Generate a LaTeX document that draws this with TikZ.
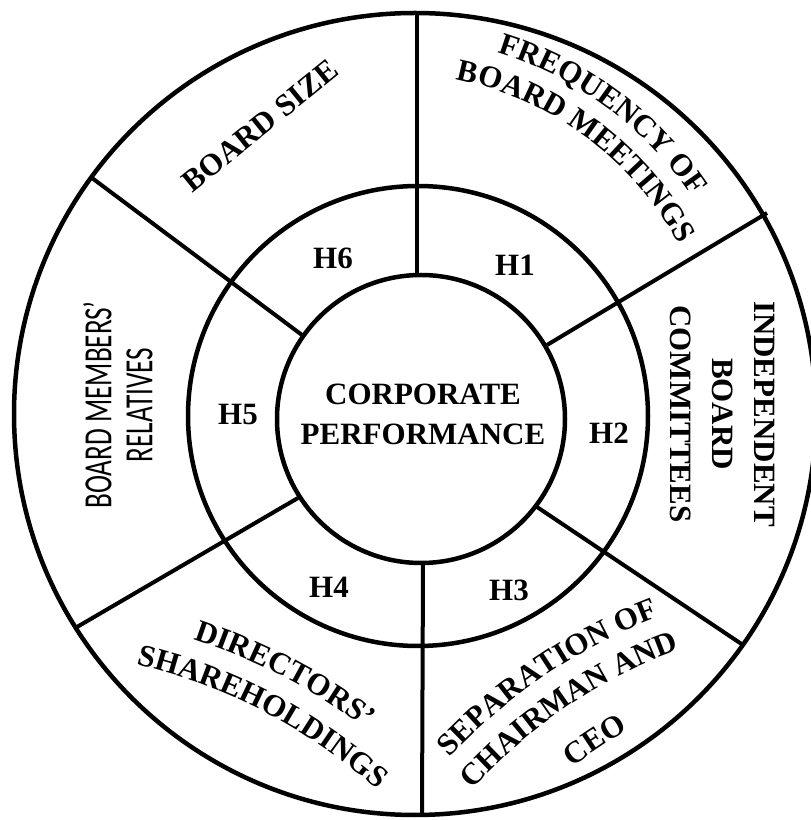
\documentclass[tikz,border=0pt]{standalone}
\usepackage{fontspec}
\usetikzlibrary{calc,decorations.text}
\setmainfont{Liberation Serif}
\newfontfamily\narrowsans[FakeStretch=0.68]{Carlito}
\newcommand\archfont{\fontsize{31}{31}\selectfont\bfseries}
% one line of text bent over an arc: centre x, centre y, mid angle, baseline radius, text
\newcommand\archline[5]{%
  \path[decorate, decoration={text along path, text align=center,
        text={|\archfont|#5}}]
    ($(#1,#2)+(#3+40:#4pt)$) arc[start angle=#3+40, end angle=#3-40, radius=#4pt];}
\begin{document}
\begin{tikzpicture}[x=1pt,y=1pt,
  ring/.style={line width=4.5pt},
  spoke/.style={line width=4pt},
  lbl/.style={font=\fontsize{31}{40}\selectfont\bfseries, align=center, inner sep=0pt},
  hyp/.style={font=\fontsize{31}{40}\selectfont\bfseries, inner sep=0pt},
  side/.style={font=\fontsize{40}{41}\selectfont\narrowsans, align=center, inner sep=0pt}]
\useasboundingbox (0,0) rectangle (811,820);
\clip (0,0) rectangle (811,820);

% three concentric rings
\draw[ring] (415,406) circle (401pt);
\draw[ring] (418,404) circle (230pt);
\node[ring, draw, circle, minimum size=288pt, inner sep=0pt] (core) at (421,401) {};

% spoke end points (outer rim / inner rim)
\coordinate (sTopO) at (417,807);  \coordinate (sTopI) at (417,545);
\coordinate (sBotO) at (422,5);    \coordinate (sBotI) at (423,257);
\coordinate (sURO) at (767,607);   \coordinate (sURI) at (547,475);
\coordinate (sLRO) at (743,175);   \coordinate (sLRI) at (537,313);
\coordinate (sLLO) at (77,193);    \coordinate (sLLI) at (298,322);
\coordinate (sULO) at (92,642);    \coordinate (sULI) at (302,485);

\draw[spoke] (sTopO) -- (sTopI);
\draw[spoke] (sBotI) -- (sBotO);
\draw[spoke] (sURI) -- (sURO);
\draw[spoke] (sLRI) -- (sLRO);
\draw[spoke] (sLLI) -- (sLLO);
\draw[spoke] (sULI) -- (sULO);

% centre
\node[lbl] (perf) at (423,406) {CORPORATE\\PERFORMANCE};

% hypotheses
\node[hyp] (h1) at (515,555) {H1};
\node[hyp] (h2) at (609,387) {H2};
\node[hyp] (h3) at (509,230) {H3};
\node[hyp] (h4) at (329,233) {H4};
\node[hyp] (h5) at (238,405) {H5};
\node[hyp] (h6) at (333,562) {H6};

% outer segments
\node[lbl, rotate=39] (bsize) at (260,694) {BOARD SIZE};
\archline{392.7}{421.7}{53.5}{361}{FREQUENCY OF}
\archline{392.7}{421.7}{53.5}{325}{BOARD MEETINGS}
\node[lbl, rotate=-90, font=\fontsize{31}{42}\selectfont\bfseries] (indep) at (722,406) {INDEPENDENT\\BOARD\\COMMITTEES};
\archline{853.7}{-311.3}{124}{550}{SEPARATION OF}
\archline{853.7}{-311.3}{124}{512}{CHAIRMAN AND}
\archline{853.7}{-311.3}{123.5}{460}{CEO}
\archline{11.6}{-380.4}{62.6}{590}{DIRECTORS’}
\archline{11.6}{-380.4}{62.6}{550}{SHAREHOLDINGS}
\node[side, rotate=90] (rel) at (118,415) {BOARD MEMBERS’\\RELATIVES};
\end{tikzpicture}
\end{document}
